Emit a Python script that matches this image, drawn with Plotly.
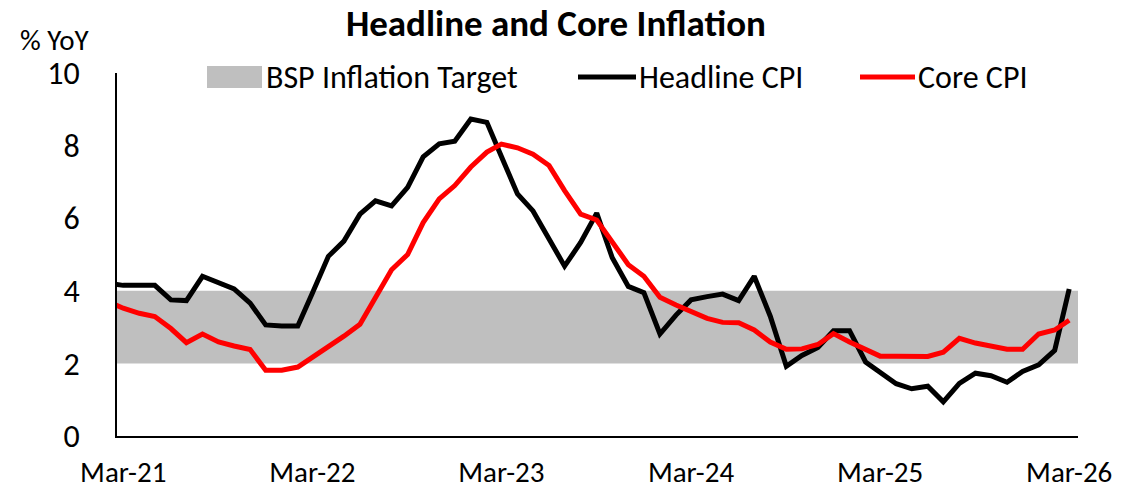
import plotly.graph_objects as go

# Monthly dates, Feb-2021 .. Mar-2026 (Feb-21 lies just left of the axis and is clipped)
months = [f"{y}-{m:02d}-01" for y in range(2021, 2027) for m in range(1, 13)]
months = [d for d in months if "2021-02-01" <= d <= "2026-03-01"]

headline_cpi = [4.2, 4.15, 4.15, 4.15, 3.75, 3.73, 4.4, 4.23, 4.05, 3.66, 3.06,
                3.03, 3.03, 3.93, 4.95, 5.37, 6.11, 6.48, 6.34, 6.85, 7.69, 8.05, 8.12,
                8.73, 8.64, 7.7, 6.67, 6.2, 5.46, 4.68, 5.33, 6.14, 4.91, 4.12, 3.95,
                2.81, 3.33, 3.75, 3.84, 3.91, 3.73, 4.4, 3.3, 1.92, 2.22, 2.44, 2.9,
                2.9, 2.04, 1.76, 1.44, 1.3, 1.37, 0.94, 1.45, 1.73, 1.66, 1.48, 1.78,
                1.96, 2.36, 4.05]

core_cpi = [3.7, 3.52, 3.38, 3.29, 2.96, 2.57, 2.81, 2.59, 2.48, 2.38, 1.81,
            1.81, 1.9, 2.16, 2.45, 2.75, 3.08, 3.84, 4.58, 5.0, 5.88, 6.53, 6.9,
            7.41, 7.82, 8.04, 7.94, 7.76, 7.45, 6.76, 6.11, 5.95, 5.32, 4.72, 4.4,
            3.82, 3.61, 3.43, 3.24, 3.13, 3.12, 2.92, 2.59, 2.39, 2.4, 2.52, 2.82,
            2.59, 2.38, 2.2, 2.2, 2.19, 2.19, 2.31, 2.69, 2.56, 2.47, 2.39, 2.39,
            2.81, 2.92, 3.19]

target_low, target_high = 2, 4
tick_dates = ["2021-03-01", "2022-03-01", "2023-03-01", "2024-03-01", "2025-03-01", "2026-03-01"]
tick_labels = ["Mar-21", "Mar-22", "Mar-23", "Mar-24", "Mar-25", "Mar-26"]
y_ticks = [0, 2, 4, 6, 8, 10]

FONT = "Carlito, Calibri, 'Liberation Sans Narrow', 'Noto Sans', sans-serif"

fig = go.Figure()
fig.add_trace(go.Scatter(x=months, y=headline_cpi, mode="lines", name="Headline CPI",
                         line=dict(color="#000000", width=5), showlegend=False))
fig.add_trace(go.Scatter(x=months, y=core_cpi, mode="lines", name="Core CPI",
                         line=dict(color="#FF0000", width=5), showlegend=False))

# BSP inflation target band
fig.add_shape(type="rect", xref="paper", yref="y", x0=0, x1=1, y0=target_low, y1=target_high,
              fillcolor="#BFBFBF", line_width=0, layer="below")

# manual legend (positions in pixels converted to paper units)
L = 117; W = 961; B = 436; H = 363
def px(x):
    return (x - L) / W
def py(y):
    return (B - y) / H

fig.add_shape(type="rect", xref="paper", yref="paper", x0=px(207), x1=px(262), y0=py(88), y1=py(66),
              fillcolor="#BFBFBF", line_width=0)
fig.add_shape(type="line", xref="paper", yref="paper", x0=px(578), x1=px(636), y0=py(77), y1=py(77),
              line=dict(color="#000000", width=5))
fig.add_shape(type="line", xref="paper", yref="paper", x0=px(860), x1=px(915), y0=py(77), y1=py(77),
              line=dict(color="#FF0000", width=5))
for xx, txt in [(264, "BSP Inflation Target"), (637, "Headline CPI"), (916, "Core CPI")]:
    fig.add_annotation(x=px(xx), y=py(77), xref="paper", yref="paper", text=txt, showarrow=False,
                       xanchor="left", yanchor="middle", font=dict(size=32, color="#000000", family=FONT))

fig.add_annotation(x=px(55), y=py(40), xref="paper", yref="paper", text="% YoY", showarrow=False,
                   xanchor="center", yanchor="middle", font=dict(size=29, color="#000000", family=FONT))

fig.update_layout(
    width=1123, height=492,
    margin=dict(l=117, r=45, t=73, b=56),
    paper_bgcolor="white", plot_bgcolor="white",
    font=dict(family=FONT, color="#000000", size=32),
    title=dict(text="<b>Headline and Core Inflation</b>", x=0.495, xref="container", xanchor="center",
               y=1 - 23 / 492, yref="container", yanchor="middle", font=dict(size=37, family=FONT, color="#000000")),
    showlegend=False,
)
fig.update_xaxes(type="date", range=["2021-02-17", "2026-03-18"], tickvals=tick_dates, ticktext=tick_labels,
                 showgrid=False, zeroline=False, showline=True, linecolor="#000000", linewidth=2,
                 ticks="", ticklabelstandoff=9, tickfont=dict(size=29), automargin=False)
fig.update_yaxes(range=[0, 10], tickvals=y_ticks, showgrid=False, zeroline=False, showline=True,
                 linecolor="#000000", linewidth=2, ticks="", ticklabelstandoff=29, tickfont=dict(size=32),
                 automargin=False)

fig.write_html("out.html", config={"displayModeBar": False},
               post_script="document.body.style.margin='0';document.body.style.padding='0';")
